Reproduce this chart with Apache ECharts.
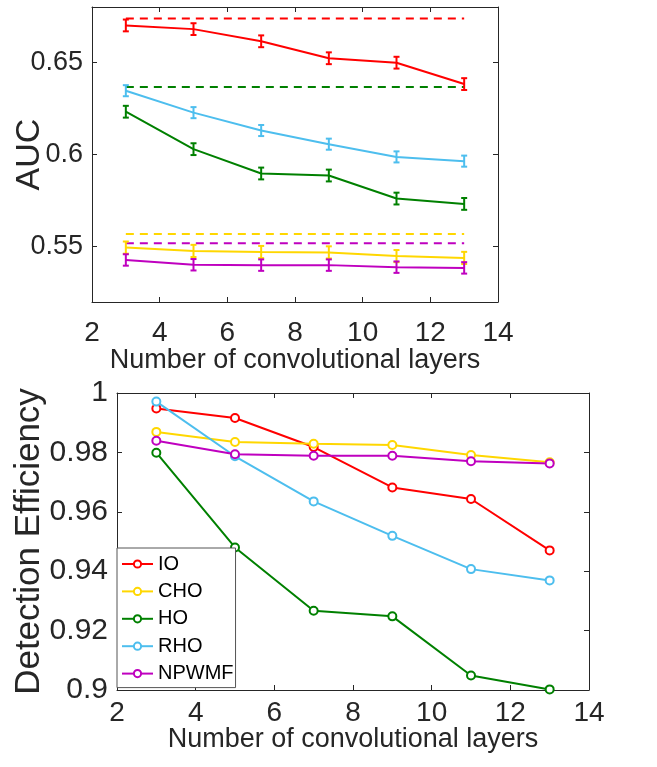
<!DOCTYPE html>
<html>
<head>
<meta charset="utf-8">
<script src="https://cdn.jsdelivr.net/npm/echarts@6/dist/echarts.min.js"></script>
<style>html,body{margin:0;padding:0;background:#fff}#c{width:657px;height:767px}</style>
</head>
<body>
<div id="c"></div>
<script>
// ---- Data ----
const layers = [3, 5, 7, 9, 11, 13];
const seriesNames = ['IO', 'CHO', 'HO', 'RHO', 'NPWMF'];
const seriesColors = ['#FF0000', '#FFD700', '#008000', '#4DBEEE', '#BF00BF'];

// Top: AUC (mean) and error half-widths
const aucIO    = [0.6700, 0.6680, 0.6614, 0.6522, 0.6498, 0.6382];
const aucCHO   = [0.5495, 0.5477, 0.5471, 0.5469, 0.5449, 0.5439];
const aucHO    = [0.6232, 0.6029, 0.5897, 0.5886, 0.5761, 0.5732];
const aucRHO   = [0.6346, 0.6227, 0.6130, 0.6056, 0.5987, 0.5964];
const aucNPWMF = [0.5428, 0.5402, 0.5400, 0.5400, 0.5389, 0.5385];
const errIO    = [0.0032, 0.0032, 0.0032, 0.0032, 0.0032, 0.0032];
const errCHO   = [0.0033, 0.0033, 0.0033, 0.0033, 0.0033, 0.0033];
const errHO    = [0.0032, 0.0032, 0.0032, 0.0032, 0.0032, 0.0032];
const errRHO   = [0.0030, 0.0030, 0.0030, 0.0030, 0.0030, 0.0030];
const errNPWMF = [0.0031, 0.0031, 0.0031, 0.0031, 0.0031, 0.0031];
// Top: dashed reference levels (x from 3 to 13)
const refX = [3, 13];
const refIO = 0.6737, refHO = 0.6366, refCHO = 0.5569, refNPWMF = 0.5518;

// Bottom: detection efficiency
const deIO    = [0.9948, 0.9916, 0.9818, 0.9682, 0.9643, 0.9470];
const deCHO   = [0.9869, 0.9835, 0.9829, 0.9825, 0.9791, 0.9767];
const deHO    = [0.9799, 0.9480, 0.9267, 0.9248, 0.9049, 0.9002];
const deRHO   = [0.9971, 0.9787, 0.9635, 0.9519, 0.9407, 0.9369];
const deNPWMF = [0.9839, 0.9794, 0.9789, 0.9789, 0.9770, 0.9763];

// Axis ticks
const xTicks = [2, 4, 6, 8, 10, 12, 14];
const yTicksTop = [0.55, 0.6, 0.65];
const yTicksBottom = [0.9, 0.92, 0.94, 0.96, 0.98, 1];
const xTitle = 'Number of convolutional layers';

// ---- Build ----
const aucAll = [aucIO, aucCHO, aucHO, aucRHO, aucNPWMF];
const errAll = [errIO, errCHO, errHO, errRHO, errNPWMF];
const deAll = [deIO, deCHO, deHO, deRHO, deNPWMF];
const refs = [[refIO, 0], [refHO, 2], [refCHO, 1], [refNPWMF, 4]];

const AX = '#262626';
const font = "'Liberation Sans', Arial, sans-serif";
const fmt = v => String(+v.toFixed(2));

function xAxisPair(grid, labelSize, margin, nameGap) {
  return [{
    type: 'value', gridIndex: grid, position: 'bottom', min: 2, max: 14,
    axisLine: {show: true, onZero: false, lineStyle: {color: AX, width: 1}},
    axisTick: {show: true, inside: true, length: 5, customValues: xTicks, lineStyle: {color: AX}},
    axisLabel: {show: true, customValues: xTicks, margin: margin, color: AX, fontSize: labelSize, fontFamily: font, formatter: fmt},
    splitLine: {show: false},
    name: xTitle, nameLocation: 'middle', nameGap: nameGap, nameMoveOverlap: false,
    nameTextStyle: {color: AX, fontSize: 27, fontFamily: font}
  }, {
    type: 'value', gridIndex: grid, position: 'top', min: 2, max: 14,
    axisLine: {show: true, onZero: false, lineStyle: {color: AX, width: 1}},
    axisTick: {show: true, inside: true, length: 5, customValues: xTicks, lineStyle: {color: AX}},
    axisLabel: {show: false}, splitLine: {show: false}
  }];
}
function yAxisPair(grid, min, max, ticks, labelSize, name, nameGap, nameSize) {
  return [{
    type: 'value', gridIndex: grid, position: 'left', min: min, max: max,
    axisLine: {show: true, onZero: false, lineStyle: {color: AX, width: 1}},
    axisTick: {show: true, inside: true, length: 5, customValues: ticks, lineStyle: {color: AX}},
    axisLabel: {show: true, customValues: ticks, margin: 9, color: AX, fontSize: labelSize, fontFamily: font, formatter: fmt},
    splitLine: {show: false},
    name: name, nameLocation: 'middle', nameGap: nameGap, nameMoveOverlap: false,
    nameTextStyle: {color: AX, fontSize: nameSize, fontFamily: font}
  }, {
    type: 'value', gridIndex: grid, position: 'right', min: min, max: max,
    axisLine: {show: true, onZero: false, lineStyle: {color: AX, width: 1}},
    axisTick: {show: true, inside: true, length: 5, customValues: ticks, lineStyle: {color: AX}},
    axisLabel: {show: false}, splitLine: {show: false}
  }];
}

const series = [];
// top dashed reference lines
refs.forEach(([v, ci]) => {
  series.push({
    type: 'line', name: seriesNames[ci] + ' ref', xAxisIndex: 0, yAxisIndex: 0,
    data: refX.map(x => [x, v]), showSymbol: false, symbol: 'none', silent: true,
    lineStyle: {color: seriesColors[ci], width: 2, type: [8, 6]}, z: 2
  });
});
// top solid lines + error bars
aucAll.forEach((arr, i) => {
  series.push({
    type: 'line', name: seriesNames[i] + ' AUC', xAxisIndex: 0, yAxisIndex: 0,
    data: layers.map((x, k) => [x, arr[k]]), symbol: 'none', silent: true,
    lineStyle: {color: seriesColors[i], width: 2}, z: 3
  });
  series.push({
    type: 'custom', name: seriesNames[i] + ' err', xAxisIndex: 0, yAxisIndex: 0,
    data: layers.map((x, k) => [x, arr[k] - errAll[i][k], arr[k] + errAll[i][k]]),
    encode: {x: 0, y: [1, 2]}, silent: true, z: 4,
    renderItem: (params, api) => {
      const x = api.value(0);
      const p1 = api.coord([x, api.value(1)]);
      const p2 = api.coord([x, api.value(2)]);
      const hw = 3;
      const st = {stroke: seriesColors[i], lineWidth: 2};
      return {type: 'group', children: [
        {type: 'line', shape: {x1: p1[0], y1: p1[1], x2: p2[0], y2: p2[1]}, style: st},
        {type: 'line', shape: {x1: p1[0] - hw, y1: p1[1], x2: p1[0] + hw, y2: p1[1]}, style: st},
        {type: 'line', shape: {x1: p2[0] - hw, y1: p2[1], x2: p2[0] + hw, y2: p2[1]}, style: st}
      ]};
    }
  });
});
// bottom lines with hollow circles
deAll.forEach((arr, i) => {
  series.push({
    type: 'line', name: seriesNames[i], xAxisIndex: 2, yAxisIndex: 2,
    data: layers.map((x, k) => [x, arr[k]]),
    symbol: 'emptyCircle', symbolSize: 8, silent: true,
    itemStyle: {color: seriesColors[i], borderWidth: 1.5},
    lineStyle: {color: seriesColors[i], width: 2}, z: 3
  });
});

const option = {
  animation: false,
  backgroundColor: '#fff',
  grid: [
    {left: 92, top: 7, width: 406, height: 295, containLabel: false, outerBoundsMode: 'none'},
    {left: 117, top: 393, width: 472, height: 297, containLabel: false, outerBoundsMode: 'none'}
  ],
  xAxis: [...xAxisPair(0, 28, 17, 45), ...xAxisPair(1, 28, 9, 36)],
  yAxis: [...yAxisPair(0, 0.52, 0.68, yTicksTop, 27, 'AUC', 45, 34),
          ...yAxisPair(1, 0.9, 1, yTicksBottom, 30, 'Detection Efficiency', 70, 35)],
  legend: {
    data: seriesNames, orient: 'vertical', left: 117, top: 548,
    backgroundColor: '#fff', borderColor: '#555', borderWidth: 1,
    padding: [6, 2, 4, 4], itemGap: 7.4, itemWidth: 31, itemHeight: 9,
    textStyle: {color: '#000', fontSize: 20, lineHeight: 20, fontFamily: font},
    selectedMode: false
  },
  series: series
};
echarts.init(document.getElementById('c'), null, {renderer: 'canvas'}).setOption(option);
</script>
</body>
</html>
